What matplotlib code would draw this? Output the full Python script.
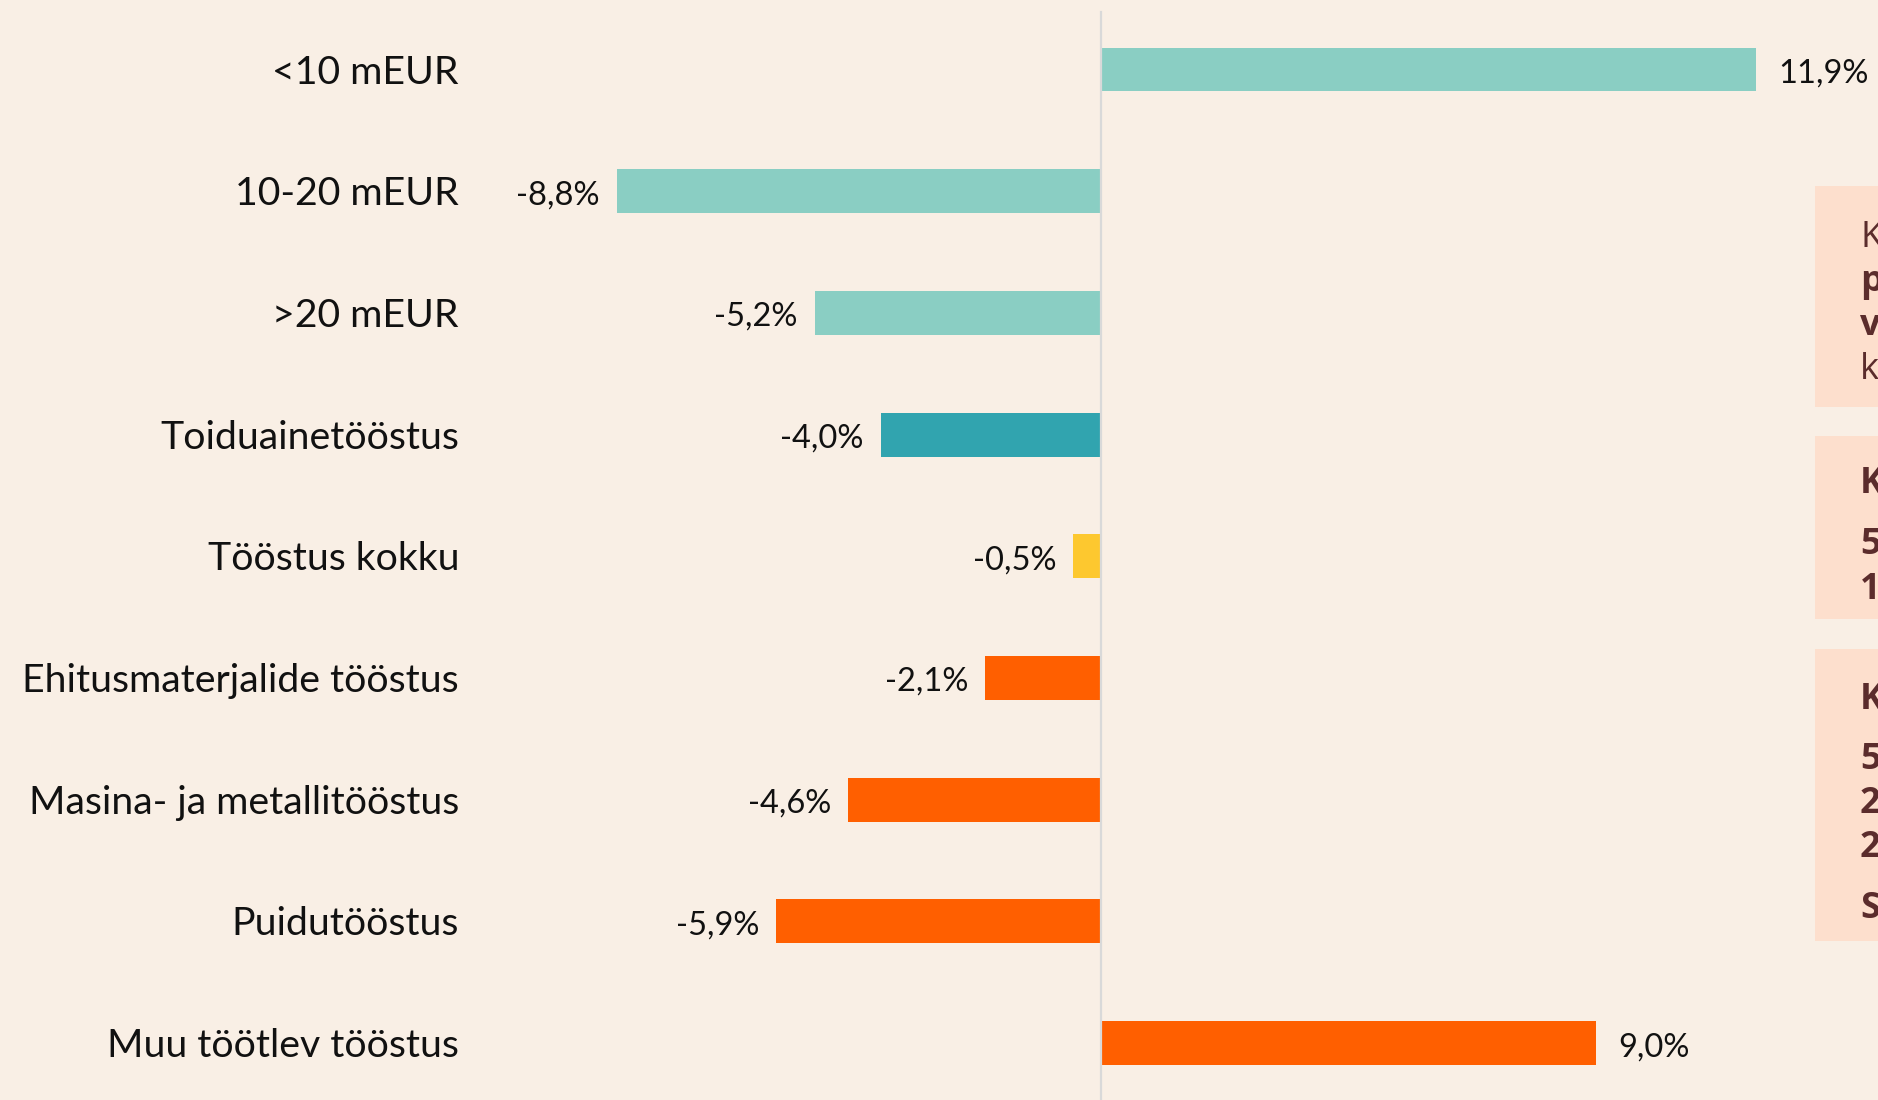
import matplotlib.pyplot as plt
import matplotlib.transforms as mtransforms
from matplotlib.patches import Rectangle

# data
categories = ["<10 mEUR", "10-20 mEUR", ">20 mEUR", "Toiduainetööstus",
              "Tööstus kokku", "Ehitusmaterjalide tööstus",
              "Masina- ja metallitööstus", "Puidutööstus", "Muu töötlev tööstus"]
values = [11.9, -8.8, -5.2, -4.0, -0.5, -2.1, -4.6, -5.9, 9.0]
bar_colors = ["#8ACEC3", "#8ACEC3", "#8ACEC3", "#31A4AF", "#FDC82F",
              "#FF5F00", "#FF5F00", "#FF5F00", "#FF5F00"]

# right-hand note boxes (only the first letters are visible in the crop)
box_lines = [
    [("K", "normal"), ("p", "bold"), ("v", "bold"), ("k", "normal")],
    [("K", "bold"), ("5", "bold"), ("1", "bold")],
    [("K", "bold"), ("5", "bold"), ("2", "bold"), ("2", "bold"), ("S", "bold")],
]

W, H = 1878, 1100
bg = "#F9EFE5"
px_per_unit = 55.04
zero_px = 1101
row_px = 121.7
first_row_px = 69.5

fig = plt.figure(figsize=(W / 100, H / 100), dpi=100)
fig.patch.set_facecolor(bg)
ax = fig.add_axes([0, 0, 1, 1])
ax.set_facecolor(bg)
ax.axis("off")

ax.set_xlim(-zero_px / px_per_unit, (W - zero_px) / px_per_unit)
ax.set_ylim((H - first_row_px) / row_px, -first_row_px / row_px)

ypos = list(range(len(categories)))
ax.barh(ypos, values, height=0.36, color=bar_colors, zorder=2)
ax.axvline(0, ymin=0, ymax=1 - 12 / H, color="#D9D9D9", lw=1.6, zorder=3)

lab_font = "Lato"
trans = mtransforms.blended_transform_factory(fig.transFigure, ax.transData)
for y, name in zip(ypos, categories):
    ax.annotate(name, (459 / W, y), xycoords=trans, xytext=(0, -3),
                textcoords="offset pixels", ha="right", va="center",
                fontsize=28.3, family=lab_font, color="#111111")

for y, v in zip(ypos, values):
    txt = f"{v:.1f}%".replace(".", ",")
    if v < 0:
        ax.annotate(txt, (v, y), xytext=(-17, -4), textcoords="offset pixels",
                    ha="right", va="center", fontsize=23.5, family=lab_font,
                    color="#111111")
    else:
        ax.annotate(txt, (v, y), xytext=(22, -4), textcoords="offset pixels",
                    ha="left", va="center", fontsize=23.5, family=lab_font,
                    color="#111111")

# note boxes on the right, cut by the figure edge
box_spans = [(186, 407), (436, 619), (649, 941)]
baselines = [[247, 291, 335, 379], [493, 554, 599], [709, 769, 813, 857, 918]]
for (top, bottom), lines, bl in zip(box_spans, box_lines, baselines):
    fig.patches.append(Rectangle((1815 / W, 1 - bottom / H), 100 / W,
                                 (bottom - top) / H, transform=fig.transFigure,
                                 facecolor="#FDDFCD", edgecolor="none"))
    for (s, wt), b in zip(lines, bl):
        fig.text(1860 / W, 1 - b / H, s, ha="left", va="baseline",
                 fontsize=26, fontweight=wt, family="Open Sans",
                 color="#5B2C2C")

fig.savefig("out.png", dpi=100, facecolor=bg)
